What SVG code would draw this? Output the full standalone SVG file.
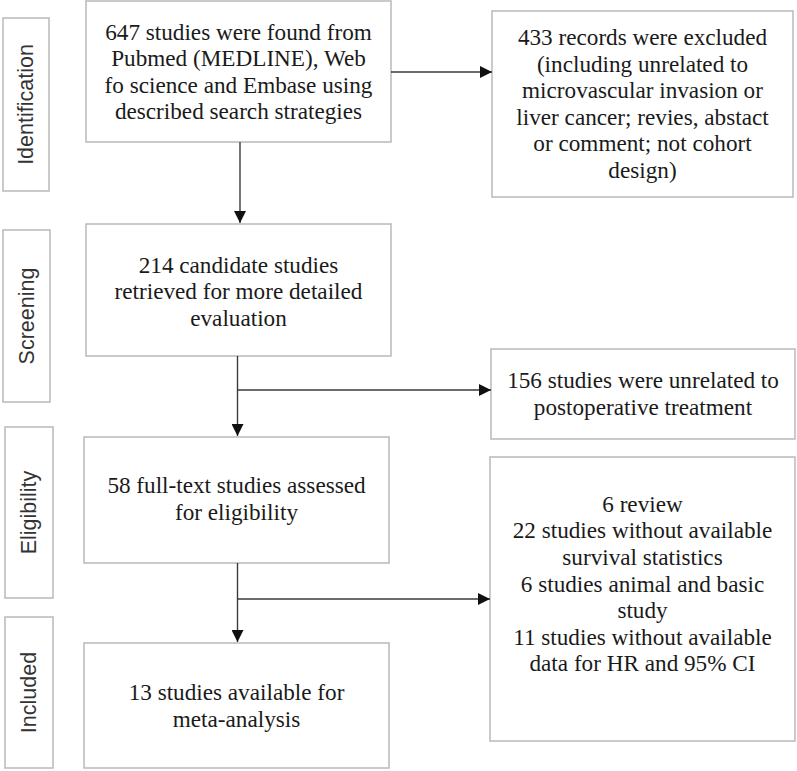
<svg xmlns="http://www.w3.org/2000/svg" width="797" height="771" viewBox="0 0 797 771">
<style>
.box{fill:#fff;stroke:#bdbdbd;stroke-width:1.6}
.t{font-family:Tinos,"Times New Roman","Liberation Serif",serif;font-size:23.2px;fill:#1a1a1a;text-anchor:middle}
.lab{font-family:"Liberation Sans",Arial,sans-serif;font-size:21.5px;fill:#333;text-anchor:middle}
.c{stroke:#3a3a3a;stroke-width:1.4;fill:none}
</style>
<defs>
<marker id="ah" markerUnits="userSpaceOnUse" markerWidth="12" markerHeight="12" viewBox="0 0 12 12" refX="12" refY="6" orient="auto">
<path d="M0,0 L12,6 L0,12 Z" fill="#111"/>
</marker>
</defs>
<rect width="797" height="771" fill="#fff"/>
<g id="stage-identification">
<rect class="box" x="3" y="18" width="46" height="173"/>
<text class="lab" transform="translate(33,104.5) rotate(-90)">Identification</text>
</g>
<g id="stage-screening">
<rect class="box" x="3" y="230" width="47" height="172"/>
<text class="lab" transform="translate(34,316) rotate(-90)">Screening</text>
</g>
<g id="stage-eligibility">
<rect class="box" x="5" y="427" width="48" height="171"/>
<text class="lab" transform="translate(36,512.5) rotate(-90)">Eligibility</text>
</g>
<g id="stage-included">
<rect class="box" x="5" y="617" width="48" height="151"/>
<text class="lab" transform="translate(36,692.5) rotate(-90)">Included</text>
</g>
<g id="n-found">
<rect class="box" x="86" y="1" width="305" height="141"/>
<text class="t" x="238.5" y="39.5">647 studies were found from</text>
<text class="t" x="238.5" y="66.1">Pubmed (MEDLINE),  Web</text>
<text class="t" x="238.5" y="92.7">fo science and Embase using</text>
<text class="t" x="238.5" y="119.3">described search strategies</text>
</g>
<g id="n-excluded1">
<rect class="box" x="492" y="11" width="301" height="186"/>
<text class="t" x="642.5" y="45">433 records were excluded</text>
<text class="t" x="642.5" y="71.6">(including unrelated to</text>
<text class="t" x="642.5" y="98.2">microvascular invasion or</text>
<text class="t" x="642.5" y="124.8">liver cancer; revies, abstact</text>
<text class="t" x="642.5" y="151.4">or comment; not cohort</text>
<text class="t" x="642.5" y="178">design)</text>
</g>
<g id="n-candidate">
<rect class="box" x="86" y="224" width="305" height="132"/>
<text class="t" x="238.5" y="272.7">214 candidate studies</text>
<text class="t" x="238.5" y="299.3">retrieved for more detailed</text>
<text class="t" x="238.5" y="325.9">evaluation</text>
</g>
<g id="n-excluded2">
<rect class="box" x="491" y="349" width="304" height="90"/>
<text class="t" x="643" y="388.3">156 studies were unrelated to</text>
<text class="t" x="643" y="414.9">postoperative treatment</text>
</g>
<g id="n-fulltext">
<rect class="box" x="84" y="437" width="305" height="126"/>
<text class="t" x="236.5" y="493.3">58 full-text studies assessed</text>
<text class="t" x="236.5" y="519.9">for eligibility</text>
</g>
<g id="n-excluded3">
<rect class="box" x="490" y="457" width="305" height="284"/>
<text class="t" x="642.5" y="511.7">6 review</text>
<text class="t" x="642.5" y="538.3">22 studies without available</text>
<text class="t" x="642.5" y="564.9">survival statistics</text>
<text class="t" x="642.5" y="591.5">6 studies animal and basic</text>
<text class="t" x="642.5" y="618.1">study</text>
<text class="t" x="642.5" y="644.7">11 studies without available</text>
<text class="t" x="642.5" y="671.3">data for HR and 95% CI</text>
</g>
<g id="n-included">
<rect class="box" x="84" y="643" width="305" height="125"/>
<text class="t" x="236.5" y="700">13 studies available for</text>
<text class="t" x="236.5" y="726.6">meta-analysis</text>
</g>
<g id="connectors">
<line class="c" x1="240" y1="142" x2="240" y2="223" marker-end="url(#ah)"/>
<line class="c" x1="391" y1="72" x2="492" y2="72" marker-end="url(#ah)"/>
<line class="c" x1="237.5" y1="356" x2="237.5" y2="436" marker-end="url(#ah)"/>
<line class="c" x1="237.5" y1="390" x2="491" y2="390" marker-end="url(#ah)"/>
<line class="c" x1="237.5" y1="563" x2="237.5" y2="642" marker-end="url(#ah)"/>
<line class="c" x1="237.5" y1="599" x2="490" y2="599" marker-end="url(#ah)"/>
</g>
</svg>
